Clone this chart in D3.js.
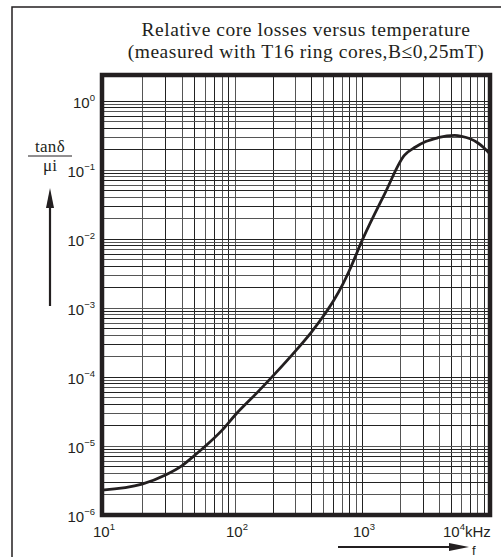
<!DOCTYPE html>
<html><head><meta charset="utf-8">
<script src="https://cdn.jsdelivr.net/npm/d3@7/dist/d3.min.js"></script>
<style>body{margin:0;background:#fff}svg{display:block}</style></head>
<body><svg id="c" width="501" height="557"></svg>
<script>
const titleLines = ["Relative core losses versus temperature", "(measured with T16 ring cores,B\u22640,25mT)"];
const xDecades = [10, 100, 1000, 10000];
const xExponents = ["1", "2", "3", "4"];
const xUnit = "kHz";
const yDecades = [1, 0.1, 0.01, 0.001, 1e-4, 1e-5, 1e-6];
const yExponents = ["0", "\u22121", "\u22122", "\u22123", "\u22124", "\u22125", "\u22126"];
const yLabelTop = "tan\u03b4";
const yLabelBottom = "\u03bci";
const xAxisName = "f";
const freq = [10, 20, 30, 40, 50, 60, 80, 100, 150, 200, 300, 400, 500, 600, 700, 800, 1000, 1500, 2150, 2600, 3150, 3900, 4600, 5300, 6000, 7000, 8000, 9000, 10000];
const lossRatio = [2.3e-6, 2.8e-6, 3.8e-6, 5.2e-6, 7.4e-6, 1.0e-5, 1.7e-5, 2.8e-5, 6e-5, 1.05e-4, 2.4e-4, 4.5e-4, 7.8e-4, 1.3e-3, 2.15e-3, 3.6e-3, 9.5e-3, 0.045, 0.165, 0.215, 0.26, 0.295, 0.315, 0.32, 0.31, 0.285, 0.25, 0.21, 0.172];

const svg = d3.select("#c");
const ink = "#231f20";

// outer page frame
svg.append("path").attr("d", "M12,557V7H501").attr("fill", "none").attr("stroke", ink).attr("stroke-width", 1.5);

// title
const t = svg.append("text").attr("font-family", "Liberation Serif, serif").attr("font-size", 19.5).attr("fill", ink)
  .attr("letter-spacing", 0.55).attr("text-anchor", "middle");
titleLines.forEach((s, i) => t.append("tspan").attr("x", 306).attr("y", 36 + i * 21.5).text(s));

const x = d3.scaleLog().domain([10, 100, 1000, 10000]).range([102, 235, 362, 490]);
const y = d3.scaleLog().domain([1e-6, 2.4]).range([515, 75]);
const [x0, x1] = [x(10), x(10000)];
const [y0, y1] = [y(2.4), y(1e-6)];

// grid
const g = svg.append("g").attr("shape-rendering", "crispEdges");
const xt = x.ticks();
const yt = y.ticks().filter(v => v <= 1.0001);
g.selectAll(".vx").data(xt).join("line").attr("x1", d => x(d)).attr("x2", d => x(d)).attr("y1", y0).attr("y2", y1)
  .attr("stroke", (d, i) => i % 2 ? "#555" : "#222").attr("stroke-width", 1);
g.selectAll(".hy").data(yt).join("line").attr("y1", d => y(d)).attr("y2", d => y(d)).attr("x1", x0).attr("x2", x1)
  .attr("stroke", (d, i) => i % 2 ? "#555" : "#222").attr("stroke-width", 1);

// curve
svg.append("clipPath").attr("id", "clip").append("rect").attr("x", x0).attr("y", y0).attr("width", x1 - x0).attr("height", y1 - y0);
const line = d3.line().x(d => x(d[0])).y(d => y(d[1])).curve(d3.curveMonotoneX);
svg.append("path").datum(freq.map((f, i) => [f, lossRatio[i]])).attr("d", line).attr("clip-path", "url(#clip)")
  .attr("fill", "none").attr("stroke", ink).attr("stroke-width", 2.8).attr("stroke-linejoin", "round");

// frame
svg.append("rect").attr("x", x0).attr("y", y0).attr("width", x1 - x0).attr("height", y1 - y0)
  .attr("fill", "none").attr("stroke", ink).attr("stroke-width", 4.5);

// y labels
const fs = "Liberation Sans, Arial, sans-serif";
yDecades.forEach((v, i) => {
  const tx = svg.append("text").attr("font-family", fs).attr("font-size", 15).attr("fill", ink)
    .attr("text-anchor", "end").attr("x", 95).attr("y", y(v) + 7);
  tx.append("tspan").text("10");
  tx.append("tspan").attr("font-size", 9.5).attr("dy", -7).text(yExponents[i]);
});
// x labels
xDecades.forEach((v, i) => {
  const last = i === xDecades.length - 1;
  const tx = svg.append("text").attr("font-family", fs).attr("font-size", 15).attr("fill", ink)
    .attr("text-anchor", last ? "start" : "middle").attr("x", last ? x(v) - 47 : x(v) + 2).attr("y", 537);
  tx.append("tspan").text("10");
  tx.append("tspan").attr("font-size", 9.5).attr("dy", -7).text(xExponents[i]);
  if (last) tx.append("tspan").attr("dy", 7).text(xUnit);
});

// y axis name (fraction) and arrow
const ser = "Liberation Serif, serif";
svg.append("text").attr("font-family", ser).attr("font-size", 17).attr("fill", ink).attr("letter-spacing", 0.3).attr("text-anchor", "middle").attr("x", 50).attr("y", 152).text(yLabelTop);
svg.append("line").attr("x1", 28).attr("x2", 72).attr("y1", 156).attr("y2", 156).attr("stroke", ink).attr("stroke-width", 1);
svg.append("text").attr("font-family", ser).attr("font-size", 17).attr("fill", ink).attr("text-anchor", "middle").attr("x", 50).attr("y", 171).text(yLabelBottom);
svg.append("line").attr("x1", 50).attr("x2", 50).attr("y1", 306).attr("y2", 200).attr("stroke", ink).attr("stroke-width", 2.2);
svg.append("path").attr("d", "M50,188L54,208L46,208Z").attr("fill", ink);

// x axis arrow + name
svg.append("line").attr("x1", 338).attr("x2", 452).attr("y1", 547).attr("y2", 547).attr("stroke", ink).attr("stroke-width", 2.2);
svg.append("path").attr("d", "M469,547L449,543L449,551Z").attr("fill", ink);
svg.append("text").attr("font-family", fs).attr("font-size", 13).attr("fill", ink).attr("x", 472).attr("y", 555).text(xAxisName);
</script></body></html>
